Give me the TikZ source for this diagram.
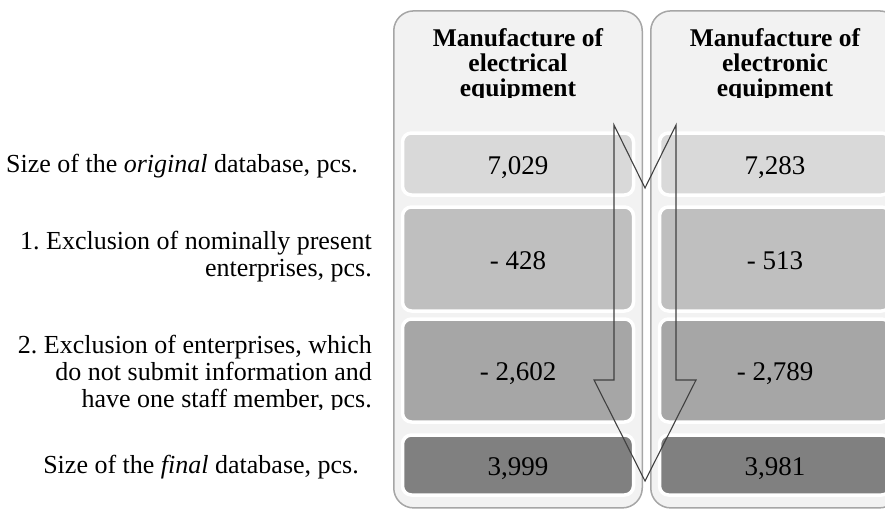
\documentclass[tikz,border=0pt]{standalone}
\usepackage{fontspec}
\setmainfont{Liberation Serif}
\frenchspacing
\definecolor{colfill}{HTML}{F2F2F2}
\definecolor{coledge}{HTML}{A6A6A6}
\definecolor{rowa}{HTML}{D9D9D9}
\definecolor{rowb}{HTML}{BFBFBF}
\definecolor{rowc}{HTML}{A6A6A6}
\definecolor{rowd}{HTML}{808080}
\definecolor{arrowline}{HTML}{404040}
\tikzstyle{colbox}=[draw=coledge,fill=colfill,line width=1.5pt,rounded corners=20pt,minimum width=248.5pt,minimum height=497pt,inner sep=0pt]
\tikzstyle{rowbox}=[draw=white,line width=3.5pt,rounded corners=9pt,minimum width=231pt,inner sep=0pt,text height=20pt,text depth=0pt,font=\fontsize{27}{29}\selectfont]
\tikzstyle{hdr}=[align=center,inner sep=0pt,anchor=north,font=\fontsize{25.5}{25}\selectfont\bfseries]
\tikzstyle{lbl}=[align=right,inner sep=0pt,font=\fontsize{26}{27}\selectfont]

\begin{document}
\begin{tikzpicture}[x=1pt,y=-1pt]
    \useasboundingbox (0,0) rectangle (885,509);
    % the two industry columns
    \node[colbox] (colA) at (518,259.4) {};
    \node[colbox] (colB) at (775,259.4) {};
    \begin{scope}
        \clip (380,0) rectangle (900,97);
        \node[hdr] (hdrA) at (518,28) {Manufacture of\\electrical\\equipment};
        \node[hdr] (hdrB) at (775,28) {Manufacture of\\electronic\\equipment};
    \end{scope}

    % rows: number/centre/height/colour/left value/right value
    \foreach \n/\y/\h/\c/\va/\vb in {1/164/62/rowa/{7,029}/{7,283},2/259/104/rowb/{- 428}/{- 513},3/370.5/103/rowc/{- 2,602}/{- 2,789},4/465/60/rowd/{3,999}/{3,981}}
    {
        \node[rowbox,fill=\c,minimum height=\h pt] (ra\n) at (518,\y) {\va};
        \node[rowbox,fill=\c,minimum height=\h pt] (rb\n) at (775,\y) {\vb};
    }

    % row labels
    \node[lbl,anchor=base east] (l1) at (358,172) {Size of the \textit{original} database, pcs.};
    \node[lbl,anchor=north east] (l2) at (372,231) {1. Exclusion of nominally present\\enterprises, pcs.};
    \begin{scope}
        \clip (0,300) rectangle (380,409);
        \node[lbl,anchor=north east] (l3) at (372,334.5) {2. Exclusion of enterprises, which\\do not submit information and\\have one staff member, pcs.};
    \end{scope}
    \node[lbl,anchor=base east] (l4) at (359,473) {Size of the \textit{final} database, pcs.};

    % big notched arrow across both columns
    \draw[arrowline,line width=1.1pt,line join=miter] (614,125) -- (614,380) -- (594,380) -- (645,481)
        -- (696,380) -- (676,380) -- (676,125) -- (645,188) -- cycle;
\end{tikzpicture}
\end{document}
